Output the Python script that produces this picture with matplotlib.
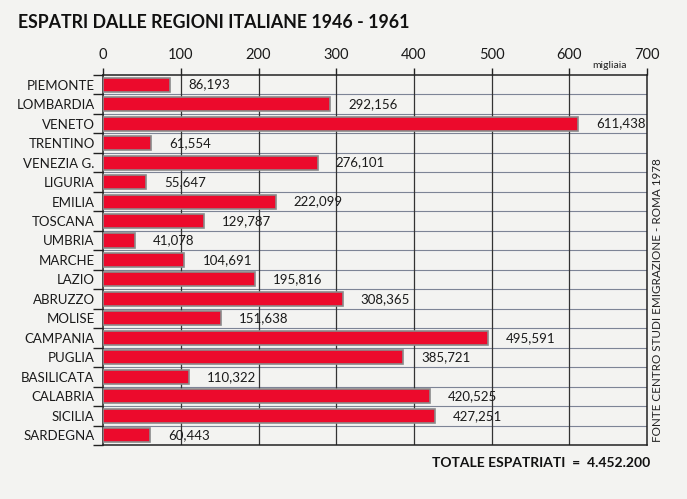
import numpy as np
import matplotlib.pyplot as plt

# Data
regions = ['PIEMONTE', 'LOMBARDIA', 'VENETO', 'TRENTINO', 'VENEZIA G.', 'LIGURIA',
           'EMILIA', 'TOSCANA', 'UMBRIA', 'MARCHE', 'LAZIO', 'ABRUZZO', 'MOLISE',
           'CAMPANIA', 'PUGLIA', 'BASILICATA', 'CALABRIA', 'SICILIA', 'SARDEGNA']
espatri = [86.193, 292.156, 611.438, 61.554, 276.101, 55.647, 222.099, 129.787,
           41.078, 104.691, 195.816, 308.365, 151.638, 495.591, 385.721, 110.322,
           420.525, 427.251, 60.443]
value_labels = ['86,193', '292,156', '611,438', '61,554', '276,101', '55,647',
                '222,099', '129,787', '41,078', '104,691', '195,816', '308,365',
                '151,638', '495,591', '385,721', '110,322', '420,525', '427,251',
                '60,443']
x_ticks = [0, 100, 200, 300, 400, 500, 600, 700]

plt.rcParams['font.family'] = ['Lato', 'DejaVu Sans']

fig = plt.figure(figsize=(6.87, 4.99), dpi=100, facecolor='#f3f3f1')
ax = fig.add_axes([0.150, 0.108, 0.792, 0.742])
ax.set_facecolor('#f3f3f1')

n = len(regions)
y = np.arange(n)
ax.barh(y, espatri, height=0.72, color='#ec0a2c', edgecolor='#8a8a8a', linewidth=1.2, zorder=3)

for yi, v, lab in zip(y, espatri, value_labels):
    ax.annotate(lab, (v, yi), xytext=(13, 0), textcoords='offset points',
                va='center', ha='left', fontsize=9.5, color='#1a1a1a', zorder=4)

ax.set_xlim(0, 700)
ax.set_ylim(n - 0.5, -0.5)

# x axis on top
ax.xaxis.tick_top()
ax.set_xticks(x_ticks)
ax.set_xticklabels([str(t) for t in x_ticks], fontsize=10.5, color='#1a1a1a')
ax.tick_params(axis='x', direction='out', length=5, width=1, pad=4, color='#222222')
for t in x_ticks[1:-1]:
    ax.axvline(t, color='#333333', linewidth=0.9, zorder=2)

# row separators
for b in np.arange(0.5, n - 0.5, 1):
    ax.axhline(b, color='#7d8496', linewidth=0.8, zorder=1)

ax.set_yticks(y)
ax.set_yticklabels(regions, fontsize=9.5, color='#1a1a1a')
ax.tick_params(axis='y', length=0, pad=6)
ax.set_yticks(np.arange(-0.5, n, 1), minor=True)
ax.tick_params(axis='y', which='minor', length=7, width=1, color='#222222')

for s in ax.spines.values():
    s.set_color('#222222')
    s.set_linewidth(1.1)

fig.text(0.026, 0.955, 'ESPATRI DALLE REGIONI ITALIANE 1946 - 1961', fontsize=12.8,
         fontweight='bold', color='#111111', va='center', ha='left')
fig.text(0.862, 0.868, 'migliaia', fontsize=7.5, color='#222222', va='center', ha='left')
fig.text(0.957, 0.115, 'FONTE CENTRO STUDI EMIGRAZIONE - ROMA 1978', fontsize=8.4,
         rotation=90, color='#222222', va='bottom', ha='center')
fig.text(0.946, 0.072, 'TOTALE ESPATRIATI  =  4.452.200', fontsize=10,
         fontweight='bold', color='#111111', va='center', ha='right')

fig.savefig('out.png', dpi=100, facecolor=fig.get_facecolor())
